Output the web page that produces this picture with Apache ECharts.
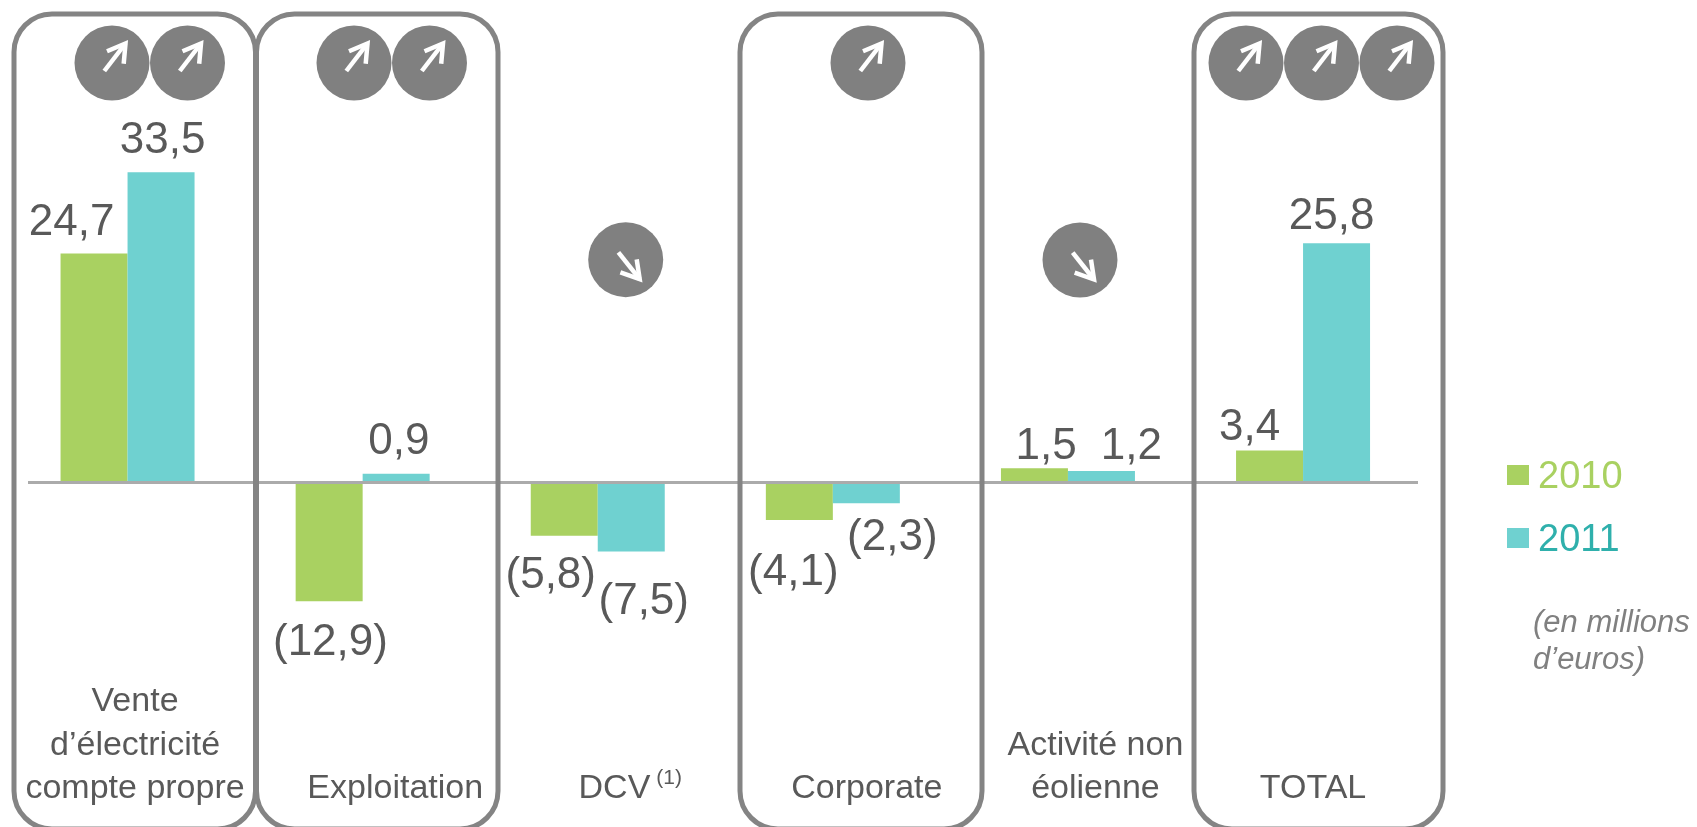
<!DOCTYPE html>
<html lang="fr">
<head>
<meta charset="utf-8">
<title>Résultat par activité</title>
<style>html,body{margin:0;padding:0;background:#fff}#chart{width:1697px;height:827px}</style>
<script src="https://cdn.jsdelivr.net/npm/echarts@6/dist/echarts.min.js"></script>
</head>
<body>
<div id="chart"></div>
<script>
// Values in millions of euros
const categories = ["Vente\nd’électricité\ncompte propre", "Exploitation", "DCV", "Corporate", "Activité non\néolienne", "TOTAL"];
const values2010 = [24.7, -12.9, -5.8, -4.1, 1.5, 3.4];
const values2011 = [33.5, 0.9, -7.5, -2.3, 1.2, 25.8];
const trends = [["up", "up"], ["up", "up"], ["down"], ["up"], ["down"], ["up", "up", "up"]];

// Hand placement of the value labels relative to their bars
const offsets2010 = [[-22.5, -9], [1.3, 19.2], [-13.5, 18.4], [-6, 31.2], [11.6, 0.4], [-20, -0.2]];
const offsets2011 = [[1.5, -9.6], [2.7, -9.7], [12.5, 28.35], [26, 12.1], [30, -2.1], [-5, -4]];
// Category captions sit right of the group centre
const captionShift = [7.5, 32.6, 32.5, 34, 27.5, 10];

// Badge centres and framed panels, in pixels
const badgeCentres = [[[112, 63], [187.5, 63]], [[354, 63], [429.5, 63]], [[625.7, 259.7]], [[868, 63]], [[1080, 260]], [[1246, 63], [1321.5, 63], [1397, 63]]];
const panelBoxes = [[14, 255.5], [256.5, 498], [740, 982], [1194, 1443]];

const FONT = '"Liberation Sans", Arial, sans-serif';
const GREEN = "#A9D161", TEAL = "#6FD1D0", GREY = "#848484", TEXT = "#595959";

const fmt = v => {
  const s = Math.abs(v).toFixed(1).replace(".", ",");
  return v < 0 ? "(" + s + ")" : s;
};

const barData = (vals, offs) => vals.map((v, i) => ({
  value: v,
  label: { position: v < 0 ? "bottom" : "top", offset: offs[i] }
}));

const barSeries = (name, color, vals, offs) => ({
  name, type: "bar", barWidth: 67, barGap: 0, animation: false,
  itemStyle: { color },
  data: barData(vals, offs),
  label: {
    show: true, distance: 0, fontFamily: FONT, fontSize: 44, color: TEXT,
    formatter: p => fmt(p.value)
  }
});

// Each caption line is padded on the left so the line shifts right of the tick
const captionRich = {};
captionShift.forEach((s, i) => {
  captionRich["c" + i] = { fontFamily: FONT, fontSize: 34, color: TEXT, lineHeight: 43.5, padding: [0, 0, 0, s * 2] };
});
captionRich.dcv = { fontFamily: FONT, fontSize: 34, color: TEXT, lineHeight: 43.5, padding: [0, 0, 0, 2 * captionShift[2]] };
captionRich.sup = { fontFamily: FONT, fontSize: 21, color: TEXT, lineHeight: 43.5, verticalAlign: "top", padding: [0, 0, 3, 6] };

// Legend text keeps a small gap from its swatch
const legendToken = color => ({ fontFamily: FONT, fontSize: 38, color, padding: [6, 0, 0, 4] });

const chart = echarts.init(document.getElementById("chart"), null, { renderer: "canvas" });

chart.setOption({
  backgroundColor: "#fff",
  animation: false,
  grid: { left: 10, width: 1410.6, top: 158.25, height: 462.5 },
  legend: {
    orient: "vertical", left: 1507, top: 459, padding: 0,
    itemWidth: 22, itemHeight: 20, itemGap: 25, icon: "rect", selectedMode: false,
    data: ["2010", "2011"],
    formatter: name => (name === "2010" ? "{a|" : "{b|") + name + "}",
    textStyle: { rich: { a: legendToken("#A9D161"), b: legendToken("#2FB0AC") } }
  },
  title: {
    text: "(en millions\nd’euros)", left: 1533, top: 605, padding: 0,
    textStyle: { fontFamily: FONT, fontSize: 31, fontStyle: "italic", fontWeight: "normal", color: "#808080", lineHeight: 37 }
  },
  xAxis: {
    type: "category", data: categories,
    axisLine: { show: false, onZero: false }, axisTick: { show: false }, splitLine: { show: false },
    axisLabel: {
      interval: 0, hideOverlap: false, margin: 190, verticalAlign: "bottom", align: "center",
      rich: captionRich,
      formatter: (val, i) => i === 2
        ? "{dcv|DCV}{sup|(1)}"
        : val.split("\n").map(l => "{c" + i + "|" + l + "}").join("\n")
    }
  },
  yAxis: { type: "value", min: -15, max: 35, show: false, splitLine: { show: false } },
  series: [
    barSeries("2010", GREEN, values2010, offsets2010),
    barSeries("2011", TEAL, values2011, offsets2011)
  ]
});

// Trend badge: grey disc with a white arrow
function badge(dir, c) {
  const up = dir === "up";
  const tail = up ? [-7.7, 8] : [-7.3, -7.3];
  const tip = up ? [13.5, -19.5] : [14, 19.5];
  const wingA = up ? [-5, -11.7] : [-5.3, 12.7];
  const wingB = up ? [11.7, 0.7] : [11, -0.3];
  const white = { stroke: "#fff", lineWidth: 4.5, fill: null, lineJoin: "miter", miterLimit: 10 };
  return {
    type: "group", x: c[0], y: c[1], z: 20,
    children: [
      { type: "circle", shape: { cx: 0, cy: 0, r: 37.5 }, style: { fill: "#808080" } },
      { type: "line", shape: { x1: tail[0], y1: tail[1], x2: tip[0], y2: tip[1] }, style: white },
      { type: "polyline", shape: { points: [wingA, tip, wingB] }, style: white }
    ]
  };
}

const zeroY = chart.convertToPixel({ yAxisIndex: 0 }, 0);
const elements = [
  { type: "line", z: 10, shape: { x1: 28, y1: zeroY + 0.5, x2: 1418, y2: zeroY + 0.5 }, style: { stroke: "#ABABAB", lineWidth: 3 } }
];
panelBoxes.forEach(b => elements.push({
  type: "rect", z: 15,
  shape: { x: b[0], y: 14, width: b[1] - b[0], height: 815, r: 38 },
  style: { fill: null, stroke: GREY, lineWidth: 5 }
}));
trends.forEach((t, i) => t.forEach((d, j) => elements.push(badge(d, badgeCentres[i][j]))));
chart.setOption({ graphic: { elements } });
</script>
</body>
</html>
